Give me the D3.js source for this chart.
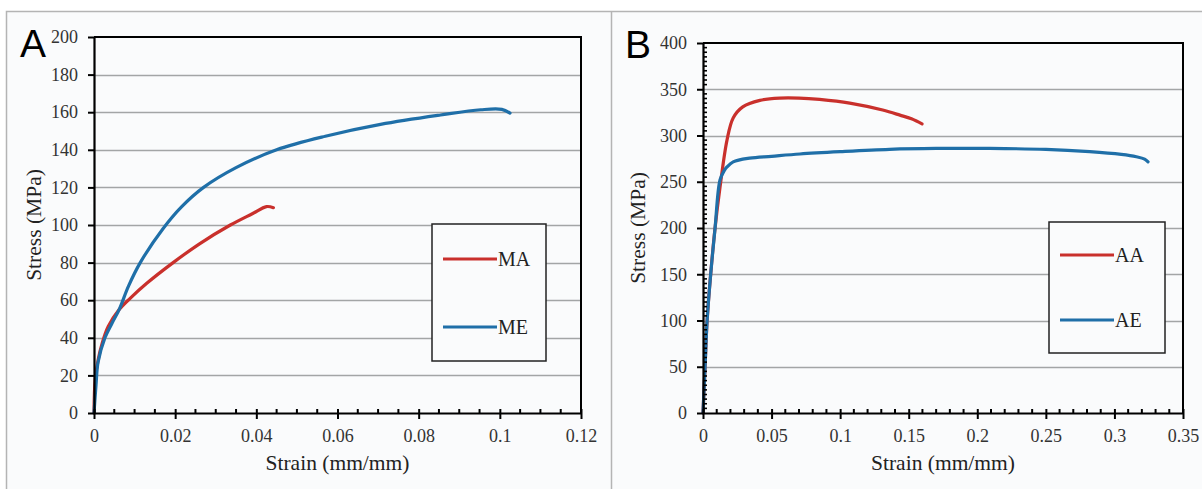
<!DOCTYPE html>
<html>
<head>
<meta charset="utf-8">
<script src="https://cdn.jsdelivr.net/npm/d3@7"></script>
<style>
  html, body { margin: 0; padding: 0; background: #ffffff; }
  svg { display: block; }
</style>
</head>
<body>
<svg id="chart" width="1202" height="489"></svg>
<script>
// ---------- Panel A data ----------
const aXTicks = [0, 0.02, 0.04, 0.06, 0.08, 0.1, 0.12];
const aYTicks = [0, 20, 40, 60, 80, 100, 120, 140, 160, 180, 200];
const maStrain = [0, 0.0003, 0.001, 0.002, 0.0035, 0.0062, 0.0089, 0.013, 0.0195, 0.026, 0.0336, 0.039, 0.0425, 0.0442];
const maStress = [0, 18, 28, 37, 46, 55, 61, 69, 80, 90, 100, 106, 109.8, 109.2];
const meStrain = [0, 0.0005, 0.001, 0.0027, 0.0045, 0.0062, 0.0085, 0.0114, 0.017, 0.0215, 0.027, 0.035, 0.045, 0.057, 0.0706, 0.0854, 0.0953, 0.1005, 0.1025];
const meStress = [0, 15, 27, 40, 48, 55, 67.5, 80, 98, 109.5, 120, 130.5, 140, 147.2, 153.5, 158.5, 161.3, 161.5, 159.5];

// ---------- Panel B data ----------
const bXTicks = [0, 0.05, 0.1, 0.15, 0.2, 0.25, 0.3, 0.35];
const bXTickLabels = ["0", "0.05", "0.1", "0.15", "0.2", "0.25", "0.3", "0.35"];
const bYTicks = [0, 50, 100, 150, 200, 250, 300, 350, 400];
const aaStrain = [0, 0.0015, 0.003, 0.0056, 0.0088, 0.0124, 0.0175, 0.022, 0.029, 0.0415, 0.056, 0.07, 0.085, 0.107, 0.131, 0.1436, 0.152, 0.1597];
const aaStress = [0, 50, 100, 150, 200, 244, 295, 319, 331, 338, 340.5, 340.5, 339, 335, 327.5, 322, 318, 312.5];
const aeStrain = [0, 0.0015, 0.003, 0.0056, 0.0088, 0.0124, 0.0155, 0.0175, 0.022, 0.034, 0.05, 0.0707, 0.1, 0.136, 0.17, 0.209, 0.25, 0.282, 0.305, 0.316, 0.322, 0.3245];
const aeStress = [0, 50, 100, 150, 200, 252, 262, 266, 271.5, 275.5, 277.5, 280, 282.5, 285, 286, 286, 285, 282.5, 279.5, 277, 274.5, 271.5];

const RED = "#c9302c";
const BLUE = "#1f6fa8";
const GRID = "#a3a5a6";
const BG = "#fafbfc";
const SERIF = "'Liberation Serif', 'Times New Roman', serif";

const svg = d3.select("#chart");

// outer frame
svg.append("rect").attr("x", 6.5).attr("y", 11.5).attr("width", 1210).attr("height", 500)
  .attr("fill", BG).attr("stroke", "#b4b4b4").attr("stroke-width", 1.5);
svg.append("line").attr("x1", 611.5).attr("x2", 611.5).attr("y1", 11).attr("y2", 489)
  .attr("stroke", "#b4b4b4").attr("stroke-width", 1.5);

function panel(cfg) {
  const g = svg.append("g");
  const x = d3.scaleLinear().domain(cfg.xDomain).range([cfg.left, cfg.right]);
  const y = d3.scaleLinear().domain(cfg.yDomain).range([cfg.bottom, cfg.top]);

  // gridlines
  g.append("g").selectAll("line").data(cfg.yTicks.filter(t => t > cfg.yDomain[0] && t < cfg.yDomain[1]))
    .join("line")
    .attr("x1", cfg.left).attr("x2", cfg.right)
    .attr("y1", d => Math.round(y(d)) + 0.5).attr("y2", d => Math.round(y(d)) + 0.5)
    .attr("stroke", GRID).attr("stroke-width", 1.3);

  // frame top & right
  g.append("line").attr("x1", cfg.left).attr("x2", cfg.right + 1).attr("y1", cfg.top).attr("y2", cfg.top)
    .attr("stroke", "#000").attr("stroke-width", 2);
  g.append("line").attr("x1", cfg.right).attr("x2", cfg.right).attr("y1", cfg.top).attr("y2", cfg.bottom)
    .attr("stroke", "#000").attr("stroke-width", 2);

  // curves
  const line = d3.line().x(d => x(d[0])).y(d => y(d[1])).curve(d3.curveCatmullRom.alpha(0.5));
  cfg.series.forEach(s => {
    const pts = s.x.map((v, i) => [v, s.y[i]]);
    g.append("path").datum(pts).attr("d", line)
      .attr("fill", "none").attr("stroke", s.color).attr("stroke-width", 3.2)
      .attr("stroke-linecap", "round").attr("stroke-linejoin", "round");
  });

  // x axis
  const xAxis = d3.axisBottom(x).tickValues(cfg.xTicks).tickSize(6).tickSizeOuter(0)
    .tickFormat((d, i) => cfg.xTickLabels ? cfg.xTickLabels[i] : d3.format("")(d));
  const xa = g.append("g").attr("transform", `translate(0,${cfg.bottom})`).call(xAxis);
  xa.attr("font-family", SERIF);
  xa.select(".domain").attr("stroke", "#000").attr("stroke-width", 2.2);
  xa.selectAll(".tick line").attr("stroke", "#000").attr("stroke-width", 2).attr("y1", -4);
  xa.selectAll(".tick text").attr("font-family", SERIF).attr("font-size", 18).attr("fill", "#333")
    .attr("y", 29).attr("dy", 0);
  // x minor ticks
  const xMinor = d3.range(cfg.xDomain[0], cfg.xDomain[1] + 1e-9, cfg.xMinor)
    .filter(v => !cfg.xTicks.some(t => Math.abs(t - v) < 1e-9));
  g.append("g").selectAll("line").data(xMinor).join("line")
    .attr("x1", d => x(d)).attr("x2", d => x(d))
    .attr("y1", cfg.bottom - 4).attr("y2", cfg.bottom)
    .attr("stroke", "#000").attr("stroke-width", 2);

  // y axis
  const yAxis = d3.axisLeft(y).tickValues(cfg.yTicks).tickSize(6).tickSizeOuter(0);
  const ya = g.append("g").attr("transform", `translate(${cfg.left},0)`).call(yAxis);
  ya.attr("font-family", SERIF);
  ya.select(".domain").attr("stroke", "#000").attr("stroke-width", 2.2);
  ya.selectAll(".tick line").attr("stroke", "#000").attr("stroke-width", 2);
  ya.selectAll(".tick text").attr("font-family", SERIF).attr("font-size", 18).attr("fill", "#333").attr("x", -16);
  if (cfg.yMinor) {
    const yMinor = d3.range(cfg.yDomain[0], cfg.yDomain[1] + 1e-9, cfg.yMinor)
      .filter(v => !cfg.yTicks.some(t => Math.abs(t - v) < 1e-9));
    g.append("g").selectAll("line").data(yMinor).join("line")
      .attr("x1", cfg.left).attr("x2", cfg.left + 4)
      .attr("y1", d => y(d)).attr("y2", d => y(d))
      .attr("stroke", "#000").attr("stroke-width", 1.6);
  }

  // axis titles
  g.append("text").attr("x", (cfg.left + cfg.right) / 2).attr("y", 470)
    .attr("text-anchor", "middle").attr("font-family", SERIF).attr("font-size", 21.5).attr("fill", "#222")
    .text("Strain (mm/mm)");
  g.append("text").attr("transform", `translate(${cfg.yTitleX},${(cfg.top + cfg.bottom) / 2}) rotate(-90)`)
    .attr("text-anchor", "middle").attr("font-family", SERIF).attr("font-size", 21.5).attr("fill", "#222")
    .text("Stress (MPa)");

  // panel letter
  g.append("text").attr("x", cfg.letterX).attr("y", cfg.letterY)
    .attr("font-family", "'Liberation Sans', Arial, sans-serif").attr("font-size", 39).attr("fill", "#000")
    .text(cfg.letter);

  // legend
  const L = cfg.legend;
  g.append("rect").attr("x", L.x).attr("y", L.y).attr("width", L.w).attr("height", L.h)
    .attr("fill", BG).attr("stroke", "#222").attr("stroke-width", 1.5);
  cfg.series.forEach((s, i) => {
    const ly = L.y + L.rows[i];
    g.append("line").attr("x1", L.x + 11).attr("x2", L.x + 65).attr("y1", ly).attr("y2", ly)
      .attr("stroke", s.color).attr("stroke-width", 3.2);
    g.append("text").attr("x", L.x + 66).attr("y", ly).attr("dy", "0.35em")
      .attr("font-family", SERIF).attr("font-size", 20).attr("fill", "#222").text(s.name);
  });
}

panel({
  left: 94, right: 581, top: 37, bottom: 413,
  xDomain: [0, 0.12], yDomain: [0, 200],
  xTicks: aXTicks, yTicks: aYTicks, xMinor: 0.005, yMinor: null,
  yTitleX: 41, letter: "A", letterX: 20, letterY: 57,
  legend: { x: 432, y: 224, w: 114, h: 137, rows: [35, 103] },
  series: [
    { name: "MA", color: RED, x: maStrain, y: maStress },
    { name: "ME", color: BLUE, x: meStrain, y: meStress }
  ]
});

panel({
  left: 703, right: 1183, top: 43, bottom: 413,
  xDomain: [0, 0.35], yDomain: [0, 400],
  xTicks: bXTicks, xTickLabels: bXTickLabels, yTicks: bYTicks, xMinor: 0.01, yMinor: 5,
  yTitleX: 645, letter: "B", letterX: 625, letterY: 58,
  legend: { x: 1049, y: 222, w: 116, h: 131, rows: [33, 98] },
  series: [
    { name: "AA", color: RED, x: aaStrain, y: aaStress },
    { name: "AE", color: BLUE, x: aeStrain, y: aeStress }
  ]
});
</script>
</body>
</html>
